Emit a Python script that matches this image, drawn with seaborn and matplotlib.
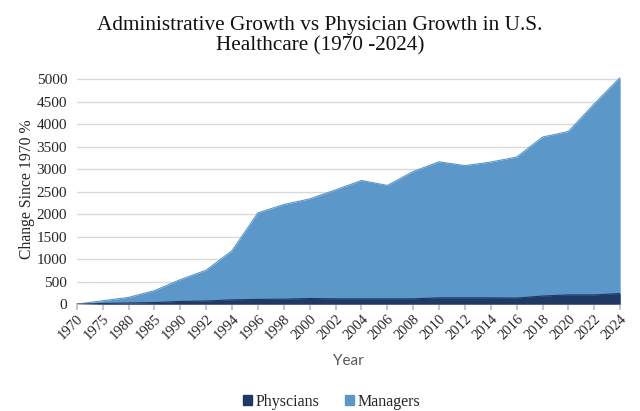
import numpy as np
import pandas as pd
import matplotlib
matplotlib.use("Agg")
import matplotlib.pyplot as plt
import seaborn as sns
from matplotlib.patches import Patch

# values (percent change since 1970)
years = ['1970', '1975', '1980', '1985', '1990', '1992', '1994', '1996', '1998', '2000', '2002',
         '2004', '2006', '2008', '2010', '2012', '2014', '2016', '2018', '2020', '2022', '2024']
managers = [0, 75, 150, 300, 545, 755, 1190, 2030, 2215, 2340, 2540,
            2750, 2640, 2950, 3165, 3080, 3160, 3270, 3715, 3840, 4455, 5040]
physicians = [0, 15, 25, 35, 60, 70, 95, 105, 110, 125, 118,
              118, 118, 118, 140, 140, 140, 135, 180, 205, 205, 236]

df = pd.DataFrame({'year': years, 'Managers': managers, 'Physcians': physicians})
df['pos'] = np.arange(len(years))

sns.set_theme(style="white")
plt.rcParams['font.family'] = ['Liberation Serif', 'DejaVu Serif']

fig = plt.figure(figsize=(6.4, 4.11), dpi=100)
ax = fig.add_axes([0.12, 0.26, 0.849, 0.558])

mgr_color = '#5b97c9'
phys_color = '#1f3864'

ax.fill_between(df['pos'], df['Managers'], color=mgr_color, linewidth=0, zorder=2)
ax.fill_between(df['pos'], df['Physcians'], color=phys_color, linewidth=0, zorder=3)
sns.lineplot(data=df, x='pos', y='Managers', ax=ax, color=mgr_color, linewidth=0.8, zorder=2)
sns.lineplot(data=df, x='pos', y='Physcians', ax=ax, color=phys_color, linewidth=0.8, zorder=3)

ax.set_xlim(0, len(years) - 1)
ax.set_ylim(0, 5100)
ax.set_yticks(range(0, 5001, 500))
ax.yaxis.grid(True, color='#d9d9d9', linewidth=1, zorder=0)
ax.set_axisbelow(True)
ax.set_xticks(df['pos'])
ax.set_xticklabels(years, rotation=45, ha='right', rotation_mode='anchor', fontsize=10.5)
ax.tick_params(axis='y', labelsize=11, length=0, pad=7)
ax.tick_params(axis='x', bottom=True, length=4, color='#bfbfbf', pad=2)

for side in ['top', 'right', 'left']:
    ax.spines[side].set_visible(False)
ax.spines['bottom'].set_color('#bfbfbf')

ax.set_ylabel('Change Since 1970 %', fontsize=11.3)
ax.yaxis.set_label_coords(-0.077, 0.5)
ax.set_xlabel('Year', fontsize=11, color='#595959', family=['Lato', 'DejaVu Sans'], labelpad=8)

fig.suptitle('Administrative Growth vs Physician Growth in U.S.\nHealthcare (1970 -2024)',
             fontsize=15.3, y=0.962, linespacing=1.1, color='#111111')

handles = [Patch(color=phys_color, label='Physcians'), Patch(color=mgr_color, label='Managers')]
fig.legend(handles=handles, loc='lower center', ncol=2, frameon=False, fontsize=11.5,
           bbox_to_anchor=(0.518, -0.032), handlelength=0.6, handleheight=0.6,
           handletextpad=0.2, columnspacing=1.6)

fig.savefig('out.png', dpi=100)
